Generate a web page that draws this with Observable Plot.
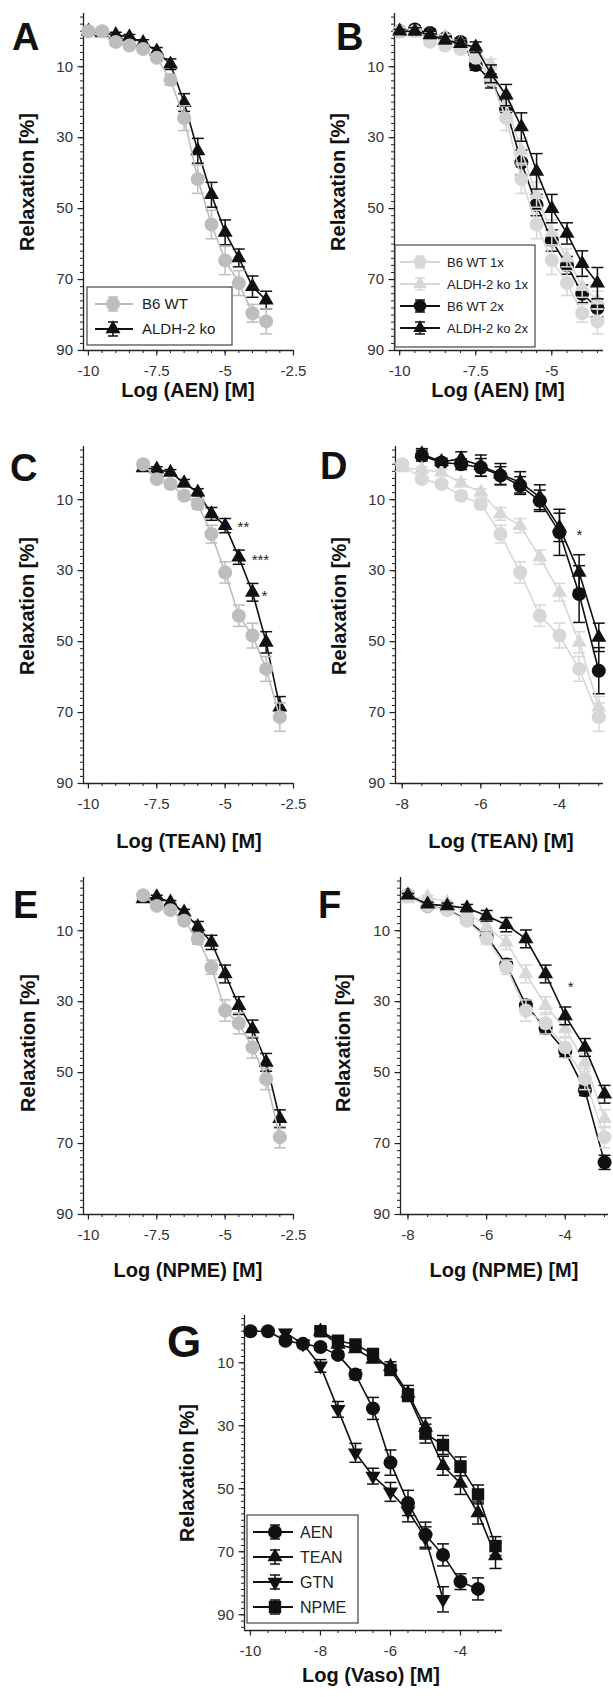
<!DOCTYPE html>
<html><head><meta charset="utf-8">
<script src="https://cdn.jsdelivr.net/npm/d3@7"></script>
<script src="https://cdn.jsdelivr.net/npm/@observablehq/plot@0.6"></script>
<style>
body{margin:0;background:#fff;}
#fig{position:relative;width:613px;height:1697px;overflow:hidden;font-family:"Liberation Sans",Arial,sans-serif;}
#fig > div{position:absolute;}
</style></head><body><div id="fig"></div>
<script>
// ---------- tick labels ----------
const yTicks = [10, 30, 50, 70, 90];
const xTicksA = [-10, -7.5, -5, -2.5];
const xTicksB = [-10, -7.5, -5];
const xTicksD = [-8, -6, -4];
const xTicksG = [-10, -8, -6, -4];

// ---------- AEN ----------
const xAEN = [-10, -9.5, -9, -8.5, -8, -7.5, -7, -6.5, -6, -5.5, -5, -4.5, -4, -3.5];
const aenWT = [0, 0, 3, 4, 5, 7.5, 13.7, 24.5, 41.7, 54.5, 64.6, 71, 79.5, 81.8];
const aenWTErr = [1, 1, 1, 1, 1, 1, 1.5, 3.5, 4, 4, 4, 3.5, 2.5, 3.5];
const aenKO = [0, 0.5, 1, 1.6, 3.2, 5.6, 9.3, 20.1, 33.7, 46.1, 56.7, 63.9, 72, 75.8];
const aenKOErr = [0.5, 0.5, 0.7, 0.7, 0.8, 1, 1.5, 2.5, 3.5, 3.5, 3.5, 2.5, 3, 2.5];
const aenWT2 = [0, -0.5, 0.5, 2, 3, 9.5, 14, 22, 37, 49, 59, 66, 74, 78];
const aenWT2Err = [1, 1, 1, 1, 1, 1.5, 2, 3, 3.5, 3, 3, 2.5, 2.5, 2.5];
const aenKO2 = [0, 0, 1, 2.5, 3.5, 4.5, 12, 18, 27, 39.5, 50, 57, 65.5, 71];
const aenKO2Err = [0.5, 1, 1, 1, 1, 1.5, 2.5, 3, 4, 5, 4, 3, 3.6, 4.4];

// ---------- TEAN ----------
const xTEAN = [-8, -7.5, -7, -6.5, -6, -5.5, -5, -4.5, -4, -3.5, -3];
const teanWT = [0, 4.2, 5.6, 8.9, 11.2, 19.7, 30.5, 42.7, 48.3, 57.7, 71.3];
const teanWTErr = [1, 1, 1, 1, 1.5, 2.5, 3, 3, 3.5, 3.5, 4];
const teanKO = [1, 1.4, 2.3, 5.3, 7.9, 14, 17.3, 26.2, 36.1, 50.2, 68.5];
const teanKOErr = [0.5, 0.7, 0.8, 1, 1, 1.8, 2, 2, 2.5, 3, 3];
const xTEAN2 = [-7.5, -7, -6.5, -6, -5.5, -5, -4.5, -4, -3.5, -3];
const teanWT2 = [-2.4, -0.5, 0, 0.9, 3.2, 6, 10.3, 19.2, 36.6, 58.2];
const teanWT2Err = [1.5, 1, 1.5, 2.5, 2.5, 2.5, 3, 6.5, 8, 6.5];
const teanKO2 = [-2.9, -0.7, -1.5, 0.4, 2.8, 5.1, 9.3, 17.8, 30.5, 48.8];
const teanKO2Err = [1.5, 1, 2, 3, 3, 3, 3.5, 4, 5, 4];

// ---------- NPME ----------
const xNPME = [-8, -7.5, -7, -6.5, -6, -5.5, -5, -4.5, -4, -3.5, -3];
const npmeWT = [0, 3, 4.2, 7.2, 12.3, 20.3, 32.5, 36.1, 42.9, 51.8, 68.2];
const npmeWTErr = [0.8, 0.8, 0.8, 1, 1.5, 2, 3, 3, 3, 3, 3];
const npmeKO = [1, 0.5, 2, 4.8, 8.9, 13.3, 22.2, 31.1, 37.7, 47.1, 63];
const npmeKOErr = [0.5, 0.5, 0.5, 0.8, 1.5, 2, 2.5, 2.5, 2.5, 2.5, 2.5];
const npmeWT2 = [0, 3, 4, 7, 11.5, 19.5, 31, 37.5, 44, 55, 75.3];
const npmeWT2Err = [0.5, 0.5, 0.5, 0.8, 1, 1.5, 1.5, 1.5, 1.5, 1.5, 2];
const npmeKO2 = [0, 2.5, 3, 3.6, 5.8, 8.3, 12.3, 22.2, 34, 42.9, 56.1];
const npmeKO2Err = [0.5, 0.5, 0.8, 1, 1.5, 2, 2.5, 2.5, 2.5, 2.5, 2.5];

// ---------- GTN ----------
const xGTN = [-9, -8.5, -8, -7.5, -7, -6.5, -6, -5.5, -5, -4.5];
const gtn = [0.5, 4, 11, 24.8, 38.6, 46, 51, 57, 65.6, 85.1];
const gtnErr = [1, 1, 2, 2.5, 3, 2.5, 3, 3.5, 3.5, 4];

// ---------- annotations ----------
const starsC = [{x: -4.33, y: 16.5, t: "**"}, {x: -3.71, y: 25.8, t: "***"}, {x: -3.56, y: 36.2, t: "*"}];
const starsD = [{x: -3.49, y: 19, t: "*"}];
const starsF = [{x: -3.86, y: 24.8, t: "*"}];

// ---------- helpers ----------
const S = (xs, ys, es) => xs.map((x, i) => ({x, y: ys[i], e: es[i]}));
const grayA = "#bdbdbd", grayB = "#d7d7d7", black = "#111";
const capSym = {draw(ctx, size) { const r = Math.sqrt(size / Math.PI); ctx.moveTo(-r, 0); ctx.lineTo(r, 0); }};
const invTri = {draw(ctx, size) {
  const y = -Math.sqrt(size / (Math.sqrt(3) * 3));
  ctx.moveTo(0, -2 * y); ctx.lineTo(-Math.sqrt(3) * y, y); ctx.lineTo(Math.sqrt(3) * y, y); ctx.closePath();
}};
const symR = {circle: 7, triangle: 5.6, square: 7, inv: 5.6};

function seriesMarks(s) {
  const sym = s.symbol === "inv" ? invTri : s.symbol;
  const r = symR[s.symbol];
  return [
    Plot.line(s.data, {x: "x", y: "y", stroke: s.color, strokeWidth: 1.6}),
    Plot.ruleX(s.data, {x: "x", y1: d => d.y - d.e, y2: d => d.y + d.e, stroke: s.color, strokeWidth: 1.5}),
    Plot.dot(s.data, {x: "x", y: d => d.y - d.e, symbol: capSym, r: 6, stroke: s.color, strokeWidth: 1.5, fill: "none"}),
    Plot.dot(s.data, {x: "x", y: d => d.y + d.e, symbol: capSym, r: 6, stroke: s.color, strokeWidth: 1.5, fill: "none"}),
    s.symbol === "circle"
      ? Plot.dot(s.data, {x: "x", y: "y", r, fill: s.color, stroke: "none"})
      : Plot.dot(s.data, {x: "x", y: "y", symbol: sym, r, fill: s.color, stroke: "none"})
  ];
}

const legSym = {circle: d3.symbolCircle, triangle: d3.symbolTriangle, square: d3.symbolSquare, inv: invTri};
function legend(svg, L) {
  const g = svg.append("g").attr("text-anchor", "start");
  g.append("rect").attr("x", L.box[0]).attr("y", L.box[1]).attr("width", L.box[2]).attr("height", L.box[3])
    .attr("fill", "white").attr("stroke", "#444").attr("stroke-width", 1.2);
  L.items.forEach((it, i) => {
    const y = L.y0 + i * L.dy;
    g.append("line").attr("x1", L.x0).attr("x2", L.x1).attr("y1", y).attr("y2", y).attr("stroke", it.color).attr("stroke-width", 1.8);
    g.append("line").attr("x1", L.xm).attr("x2", L.xm).attr("y1", y - L.eb).attr("y2", y + L.eb).attr("stroke", it.color).attr("stroke-width", 1.5);
    [-L.eb, L.eb].forEach(o => g.append("line").attr("x1", L.xm - 5).attr("x2", L.xm + 5).attr("y1", y + o).attr("y2", y + o).attr("stroke", it.color).attr("stroke-width", 1.5));
    const r = symR[it.symbol] * L.ms;
    g.append("path").attr("transform", `translate(${L.xm},${y})`)
      .attr("d", d3.symbol().type(legSym[it.symbol]).size(r * r * Math.PI)()).attr("fill", it.color);
    g.append("text").attr("x", L.xt).attr("y", y).attr("dy", "0.36em").attr("text-anchor", "start")
      .attr("font-size", L.fs).attr("fill", "#222").text(it.label);
  });
}

function panel(p) {
  const marks = [
    Plot.ruleX([p.xDomain[0]], {stroke: "#222", strokeWidth: 1.3}),
    Plot.ruleY([p.yDomain[1]], {stroke: "#222", strokeWidth: 1.3}),
    Plot.axisY({ticks: p.yMinor, tickSize: 3, tickFormat: () => "", label: null, strokeWidth: 1}),
    Plot.axisY({ticks: yTicks, tickSize: 5.5, tickPadding: 5, tickFormat: d => String(d), label: null, fontSize: 15, fill: "#333", strokeWidth: 1.2}),
    Plot.axisX({ticks: p.xMinor, tickSize: 3, tickFormat: () => "", label: null, strokeWidth: 1}),
    Plot.axisX({ticks: p.xTicks, tickSize: 5.5, tickPadding: 9, tickFormat: d => String(d), label: null, fontSize: 15, fill: "#333", strokeWidth: 1.2}),
    ...p.series.flatMap(seriesMarks)
  ];
  if (p.stars) marks.push(Plot.text(p.stars, {x: "x", y: "y", text: "t", fontSize: 15, fill: "#222", dy: 4}));
  const el = Plot.plot({
    width: p.W, height: p.H,
    marginLeft: p.m[0], marginRight: p.m[1], marginTop: p.m[2], marginBottom: p.m[3],
    x: {domain: p.xDomain},
    y: {domain: p.yDomain, reverse: true},
    style: {fontFamily: '"Liberation Sans", Arial, sans-serif', fontSize: "15px", color: "#222", background: "transparent", overflow: "visible"},
    marks
  });
  const svg = d3.select(el);
  svg.append("text").attr("x", p.letter[0]).attr("y", p.letter[1]).attr("text-anchor", "start")
    .attr("font-size", p.letterSize || 38).attr("font-weight", "bold").attr("fill", "#111").text(p.id);
  svg.append("text").attr("transform", `translate(${p.ylab[0]},${p.ylab[1]}) rotate(-90)`).attr("text-anchor", "middle")
    .attr("font-size", 20).attr("font-weight", "bold").attr("fill", "#111").text("Relaxation [%]");
  svg.append("text").attr("x", p.xlab[0]).attr("y", p.xlab[1]).attr("text-anchor", "middle")
    .attr("font-size", 20).attr("font-weight", "bold").attr("fill", "#111").text(p.xLabel);
  if (p.legend) legend(svg, p.legend);
  const div = document.createElement("div");
  div.style.left = p.left + "px"; div.style.top = p.top + "px";
  div.appendChild(el);
  document.getElementById("fig").appendChild(div);
}

const minorY = d3.range(-4, 90.1, 2);
const minorYG = d3.range(-4, 94.1, 2);
const minorXA = d3.range(-10, -2.49, 0.5);
const minorXB = d3.range(-10, -3.49, 0.5);
const minorXD = d3.range(-8, -2.99, 0.5);
const minorXG = d3.range(-10, -2.99, 0.5);

panel({id: "A", left: 0, top: 0, W: 306, H: 415, m: [83, 13, 13, 65],
  xDomain: [-10.18, -2.5], yDomain: [-5, 90], xTicks: xTicksA, xMinor: minorXA, yMinor: minorY,
  xLabel: "Log (AEN) [M]", letter: [12, 50], ylab: [34, 182], xlab: [188, 397],
  series: [
    {data: S(xAEN, aenKO, aenKOErr), color: black, symbol: "triangle"},
    {data: S(xAEN, aenWT, aenWTErr), color: grayA, symbol: "circle"}
  ],
  legend: {box: [87, 287, 145, 58], y0: 304, dy: 25, x0: 95, x1: 133, xm: 113, xt: 142, fs: 15, eb: 7, ms: 1,
    items: [{label: "B6 WT", color: grayA, symbol: "circle"}, {label: "ALDH-2 ko", color: black, symbol: "triangle"}]}
});

panel({id: "B", left: 306, top: 0, W: 307, H: 415, m: [88, 10, 13, 65],
  xDomain: [-10.17, -3.3], yDomain: [-5, 90], xTicks: xTicksB, xMinor: minorXB, yMinor: minorY,
  xLabel: "Log (AEN) [M]", letter: [30, 50], ylab: [39, 182], xlab: [192, 397],
  series: [
    {data: S(xAEN, aenWT2, aenWT2Err), color: black, symbol: "circle"},
    {data: S(xAEN, aenWT, aenWTErr), color: grayB, symbol: "circle"},
    {data: S(xAEN, aenKO, aenKOErr), color: grayB, symbol: "triangle"},
    {data: S(xAEN, aenKO2, aenKO2Err), color: black, symbol: "triangle"}
  ],
  legend: {box: [89, 245, 140, 102], y0: 262, dy: 22, x0: 94, x1: 134, xm: 114, xt: 141, fs: 13, eb: 6, ms: 0.9,
    items: [{label: "B6 WT 1x", color: grayB, symbol: "circle"}, {label: "ALDH-2 ko 1x", color: grayB, symbol: "triangle"},
            {label: "B6 WT 2x", color: black, symbol: "circle"}, {label: "ALDH-2 ko 2x", color: black, symbol: "triangle"}]}
});

panel({id: "C", left: 0, top: 415, W: 306, H: 440, m: [83, 13, 31, 72],
  xDomain: [-10.18, -2.5], yDomain: [-5, 90], xTicks: xTicksA, xMinor: minorXA, yMinor: minorY,
  xLabel: "Log (TEAN) [M]", letter: [10, 66], ylab: [34, 191], xlab: [189, 433],
  series: [
    {data: S(xTEAN, teanKO, teanKOErr), color: black, symbol: "triangle"},
    {data: S(xTEAN, teanWT, teanWTErr), color: grayA, symbol: "circle"}
  ],
  stars: starsC
});

panel({id: "D", left: 306, top: 415, W: 307, H: 440, m: [89, 10, 31, 72],
  xDomain: [-8.17, -2.88], yDomain: [-5, 90], xTicks: xTicksD, xMinor: minorXD, yMinor: minorY,
  xLabel: "Log (TEAN) [M]", letter: [14, 64], ylab: [40, 191], xlab: [195, 433],
  series: [
    {data: S(xTEAN2, teanWT2, teanWT2Err), color: black, symbol: "circle"},
    {data: S(xTEAN, teanWT, teanWTErr), color: grayB, symbol: "circle"},
    {data: S(xTEAN, teanKO, teanKOErr), color: grayB, symbol: "triangle"},
    {data: S(xTEAN2, teanKO2, teanKO2Err), color: black, symbol: "triangle"}
  ],
  stars: starsD
});

panel({id: "E", left: 0, top: 855, W: 306, H: 430, m: [83, 13, 22, 71],
  xDomain: [-10.18, -2.5], yDomain: [-5, 90], xTicks: xTicksA, xMinor: minorXA, yMinor: minorY,
  xLabel: "Log (NPME) [M]", letter: [13, 63], ylab: [35, 188], xlab: [188, 422],
  series: [
    {data: S(xNPME, npmeKO, npmeKOErr), color: black, symbol: "triangle"},
    {data: S(xNPME, npmeWT, npmeWTErr), color: grayA, symbol: "circle"}
  ]
});

panel({id: "F", left: 306, top: 855, W: 307, H: 430, m: [94, 5, 22, 71],
  xDomain: [-8.19, -2.9], yDomain: [-5, 90], xTicks: xTicksD, xMinor: minorXD, yMinor: minorY,
  xLabel: "Log (NPME) [M]", letter: [12, 63], ylab: [44, 188], xlab: [198, 422],
  series: [
    {data: S(xNPME, npmeWT2, npmeWT2Err), color: black, symbol: "circle"},
    {data: S(xNPME, npmeWT, npmeWTErr), color: grayB, symbol: "circle"},
    {data: S(xNPME, npmeKO, npmeKOErr), color: grayB, symbol: "triangle"},
    {data: S(xNPME, npmeKO2, npmeKO2Err), color: black, symbol: "triangle"}
  ],
  stars: starsF
});

panel({id: "G", left: 0, top: 1285, W: 613, H: 412, m: [244, 111, 30, 67],
  xDomain: [-10.17, -2.8], yDomain: [-5, 95], xTicks: xTicksG, xMinor: minorXG, yMinor: minorYG,
  xLabel: "Log (Vaso) [M]", letter: [167, 72], letterSize: 44, ylab: [194, 188], xlab: [371, 397],
  series: [
    {data: S(xGTN, gtn, gtnErr), color: black, symbol: "inv"},
    {data: S(xAEN, aenWT, aenWTErr), color: black, symbol: "circle"},
    {data: S(xTEAN, teanWT, teanWTErr), color: black, symbol: "triangle"},
    {data: S(xNPME, npmeWT, npmeWTErr), color: black, symbol: "square"}
  ],
  legend: {box: [247, 230, 111, 108], y0: 247, dy: 25, x0: 253, x1: 293, xm: 275, xt: 300, fs: 16, eb: 7, ms: 1,
    items: [{label: "AEN", color: black, symbol: "circle"}, {label: "TEAN", color: black, symbol: "triangle"},
            {label: "GTN", color: black, symbol: "inv"}, {label: "NPME", color: black, symbol: "square"}]}
});
</script></body></html>
